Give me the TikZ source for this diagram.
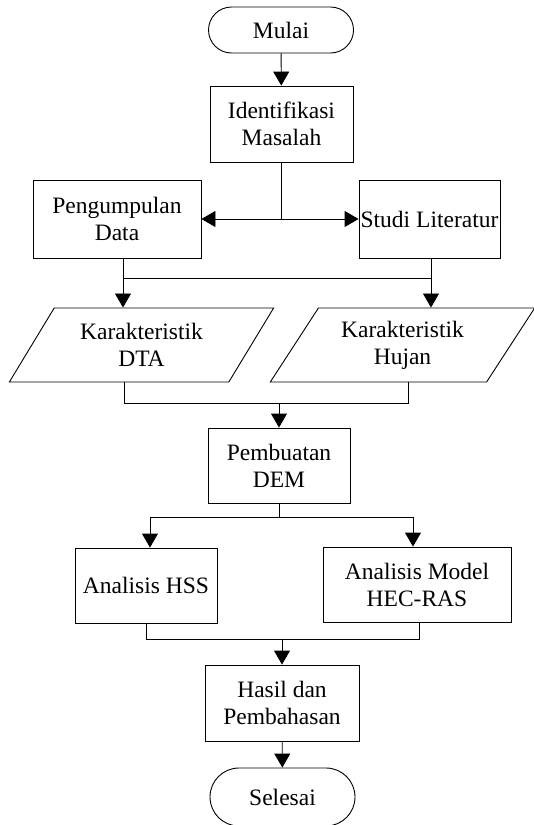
\documentclass[tikz,border=0pt]{standalone}
\usepackage{fontspec}
\setmainfont{Liberation Serif}
\usetikzlibrary{arrows.meta,shapes.geometric}

\begin{document}
\begin{tikzpicture}[>={Triangle[width=16pt,length=14pt]},x=1pt,y=-1pt,line width=0.9pt,
                    every node/.style={font=\fontsize{23.5}{27}\selectfont,align=center,inner sep=0pt},
                    term node/.style={draw,rounded corners=23pt,minimum width=145pt,minimum height=46pt},
                    proc node/.style={draw,minimum width=143pt,minimum height=76pt},
                    data node/.style={draw,trapezium,trapezium left angle=54,trapezium right angle=126,
                                      trapezium stretches=true,minimum width=265pt,minimum height=74pt}]
  \useasboundingbox (0,0) rectangle (534,825);

  \node[term node] (mulai) at (281,30) {Mulai};
  \node[proc node] (ident) at (281.5,124) {Identifikasi\\Masalah};
  \node[proc node,minimum width=168pt,minimum height=78pt] (peng) at (117,219) {Pengumpulan\\Data};
  \node[proc node,minimum width=141pt,minimum height=78pt] (studi) at (429.5,219) {Studi Literatur};
  \node[data node] (dta) at (141.5,345) {Karakteristik\\DTA};
  \node[data node] (hujan) at (402.5,345) {Karakteristik\\Hujan};
  \node[proc node,minimum width=142pt,minimum height=75pt] (dem) at (279,465.5) {Pembuatan\\DEM};
  \node[proc node,minimum width=142pt,minimum height=75pt] (hss) at (146,585.5) {Analisis HSS};
  \node[proc node,minimum width=188pt,minimum height=75pt] (model) at (417,584.5) {Analisis Model\\HEC-RAS};
  \node[proc node,minimum width=154pt] (hasil) at (282,703) {Hasil dan\\Pembahasan};
  \node[term node,rounded corners=29pt,minimum height=58pt] (selesai) at (282.5,797) {Selesai};

  % junctions
  \coordinate (j1) at (123,278);
  \coordinate (j2) at (431,278);
  \coordinate (m1) at (124,403);
  \coordinate (m2) at (408,403);
  \coordinate (s1) at (150,517);
  \coordinate (s2) at (413,517);
  \coordinate (n1) at (146,639);
  \coordinate (n2) at (419,639);

  \draw[->] (mulai) -- (ident);
  \draw (ident.south) -- (ident.south |- peng.east);
  \draw[<->] (peng.east) -- (studi.west);

  \draw (j1) -- (j2);
  \draw[->] (peng.south -| j1) -- (dta.north -| j1);
  \draw[->] (studi.south -| j2) -- (hujan.north -| j2);

  \draw (dta.south -| m1) -- (m1) -- (m2) -- (hujan.south -| m2);
  \draw[->] (m1 -| dem) -- (dem.north);

  \draw (dem.south) -- (dem.south |- s1);
  \draw (s1) -- (s2);
  \draw[->] (s1) -- (hss.north -| s1);
  \draw[->] (s2) -- (model.north -| s2);

  \draw (hss.south -| n1) -- (n1) -- (n2) -- (model.south -| n2);
  \draw[->] (n1 -| hasil) -- (hasil.north);
  \draw[->] (hasil) -- (selesai);
\end{tikzpicture}
\end{document}
